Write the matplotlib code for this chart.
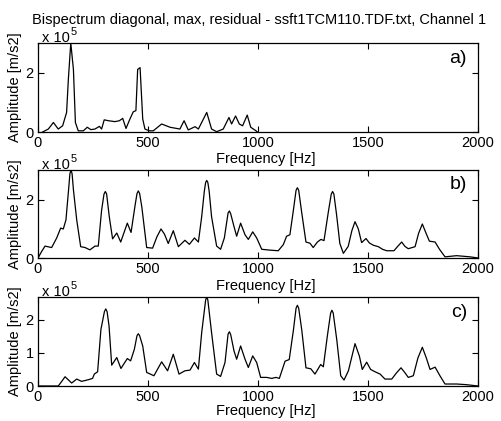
import matplotlib
matplotlib.use('Agg')
import matplotlib.pyplot as plt

plt.rcParams['font.family'] = ['Liberation Sans', 'DejaVu Sans']

# a) bispektrum diagonal (x 1e5 m/s2)
freq_a = [21, 47, 70, 92, 112, 130, 138, 149, 161, 170, 183, 206, 224, 240, 259, 279, 289, 301, 320, 350,
          370, 385, 400, 418, 433, 445, 453, 464, 476, 486, 506, 524, 562, 600, 645, 664, 683, 714, 729, 767,
          789, 812, 842, 868, 880, 898, 915, 930, 951, 967, 991, 997]
amp_a = [0, 0.1, 0.32, 0.1, 0.21, 0.66, 1.78, 3.0, 2.11, 0.32, 0.04, 0.04, 0.16, 0.08, 0.1, 0.19, 0.1, 0.41, 0.38, 0.35,
         0.38, 0.46, 0.12, 0.44, 0.68, 0.72, 2.11, 2.17, 0.44, 0.1, 0.04, 0.04, 0.27, 0.16, 0.1, 0.38, 0.07, 0.18, 0.1, 0.66,
         0.1, 0.01, 0.1, 0.49, 0.27, 0.54, 0.27, 0.21, 0.57, 0.16, 0.04, 0]

# b) max
freq_b = [0, 17, 32, 62, 85, 103, 115, 127, 139, 145, 150, 155, 161, 176, 194, 214, 236, 259, 274, 289, 300, 306, 312, 324,
          339, 358, 376, 406, 423, 440, 450, 456, 462, 472, 494, 521, 540, 559, 575, 592, 615, 638, 668, 688, 711, 729,
          744, 756, 762, 767, 772, 778, 789, 812, 830, 847, 864, 870, 876, 891, 903, 921, 941, 956, 976, 994, 1017, 1055, 1092, 1115,
          1130, 1145, 1160, 1173, 1179, 1185, 1198, 1218, 1236, 1251, 1270, 1286, 1300, 1320, 1333, 1339, 1345, 1357, 1372, 1388, 1410, 1427, 1441, 1456,
          1471, 1491, 1506, 1524, 1547, 1566, 1585, 1618, 1635, 1653, 1668, 1683, 1714, 1730, 1747, 1764, 1779, 1805, 1825, 1850,
          1903, 1964, 2000]
amp_b = [0, 0.23, 0.41, 0.36, 0.69, 1.03, 1.0, 1.31, 2.35, 2.9, 3.03, 2.9, 2.35, 1.31, 0.39, 0.36, 0.28, 0.41, 0.41, 1.64, 2.2, 2.29, 2.2, 1.42,
         0.66, 0.86, 0.55, 1.2, 0.88, 1.75, 2.22, 2.31, 2.22, 1.75, 0.36, 0.34, 0.72, 1.0, 0.82, 0.5, 0.94, 0.39, 0.61, 0.47, 0.69, 0.55,
         1.42, 2.3, 2.6, 2.67, 2.6, 2.3, 1.42, 0.41, 0.3, 0.69, 1.55, 1.62, 1.52, 1.08, 0.75, 1.2, 0.8, 0.64, 0.9, 0.69, 0.3, 0.27, 0.25, 0.46,
         0.75, 0.8, 1.6, 2.33, 2.42, 2.33, 1.6, 0.55, 0.51, 0.36, 0.55, 0.64, 0.6, 1.6, 2.2, 2.29, 2.2, 1.5, 0.5, 0.16, 0.4, 0.95, 1.25, 1.0,
         0.53, 0.67, 0.52, 0.44, 0.39, 0.3, 0.25, 0.25, 0.4, 0.55, 0.4, 0.32, 0.39, 0.85, 1.17, 0.85, 0.58, 0.55, 0.3, 0.04,
         0.08, 0.04, 0]

# c) residual
freq_c = [0, 92, 108, 123, 153, 176, 198, 229, 248, 256, 271, 286, 302, 308, 314, 323, 335, 358, 377, 406, 421, 438,
          450, 456, 462, 476, 494, 527, 562, 589, 615, 641, 668, 691, 711, 729, 744, 762, 767, 772, 789, 812, 830, 850, 864, 870, 876, 891,
          903, 921, 941, 956, 976, 994, 1012, 1039, 1062, 1082, 1097, 1123, 1142, 1161, 1173, 1179, 1185, 1199, 1218, 1240, 1259, 1285,
          1297, 1315, 1330, 1336, 1342, 1358, 1376, 1391, 1411, 1441, 1461, 1474, 1494, 1512, 1532, 1555, 1577, 1608, 1630, 1650, 1668, 1683,
          1706, 1727, 1747, 1765, 1782, 1805, 1827, 1850, 1903, 1948, 2000]
amp_c = [0, 0, 0.14, 0.28, 0.09, 0.21, 0.14, 0.19, 0.23, 0.36, 0.43, 1.71, 2.25, 2.33, 2.25, 1.81, 0.63, 0.86, 0.53, 0.83, 0.76, 1.11,
         1.52, 1.58, 1.52, 1.21, 0.41, 0.31, 0.73, 0.46, 0.96, 0.36, 0.46, 0.48, 0.71, 0.51, 1.61, 2.6, 2.69, 2.6, 1.61, 0.36, 0.29, 0.71, 1.57, 1.64, 1.55, 1.06,
         0.81, 1.21, 0.81, 0.56, 0.91, 0.71, 0.26, 0.26, 0.23, 0.26, 0.23, 0.75, 0.8, 1.69, 2.35, 2.44, 2.35, 1.69, 0.55, 0.52, 0.36, 0.65,
         0.58, 1.5, 2.2, 2.29, 2.2, 1.4, 0.31, 0.18, 0.46, 1.28, 0.9, 0.5, 0.72, 0.5, 0.43, 0.36, 0.21, 0.21, 0.4, 0.55, 0.4, 0.26,
         0.31, 0.85, 1.17, 0.85, 0.5, 0.57, 0.31, 0.06, 0.06, 0.04, 0]

panels = ['a)', 'b)', 'c)']
yticks = [[0, 2], [0, 2], [0, 1, 2]]
xticks = [0, 500, 1000, 1500, 2000]
title = 'Bispectrum diagonal, max, residual - ssft1TCM110.TDF.txt, Channel 1'

W, H = 501, 421
fig = plt.figure(figsize=(W / 100, H / 100), dpi=100)

def px_box(left, top, right, bottom):
    # pikselkanter -> figurbrøk
    return [left / W, 1 - bottom / H, (right - left) / W, (bottom - top) / H]

boxes = [(38, 43, 478, 132), (38, 170, 478, 258), (38, 297, 478, 386)]
xlab_y = [-0.23, -0.24, -0.2]
data = [(freq_a, amp_a), (freq_b, amp_b), (freq_c, amp_c)]

for i, (f, a) in enumerate(data):
    ax = fig.add_axes(px_box(*boxes[i]))
    ax.plot(f, a, color='black', lw=0.9)
    ax.set_xlim(0, 2000)
    ax.set_ylim(0, max(a))  # axis tight
    ax.set_xticks(xticks)
    ax.set_yticks(yticks[i])
    ax.tick_params(direction='in', length=4, width=0.8, top=True, right=True, labelsize=10.5, pad=3)
    for s in ax.spines.values():
        s.set_linewidth(0.9)
    ax.set_xlabel('Frequency [Hz]', fontsize=10.5)
    ax.xaxis.set_label_coords(0.518, xlab_y[i])
    ax.set_ylabel('Amplitude [m/s2]', fontsize=10.5)
    ax.yaxis.set_label_coords(-0.036, 0.5)
    ax.text(0.975, 0.83, panels[i], transform=ax.transAxes, ha='right', va='center', fontsize=14)
    # eksponent over aksen
    ax.text(0.009, 1.01, 'x 10', transform=ax.transAxes, ha='left', va='baseline', fontsize=10.5)
    ax.text(0.073, 1.09, '5', transform=ax.transAxes, ha='left', va='baseline', fontsize=8)

fig.text(259 / W, 1 - 24 / H, title, ha='center', va='baseline', fontsize=10.5)

fig.savefig('out.png', dpi=100)
